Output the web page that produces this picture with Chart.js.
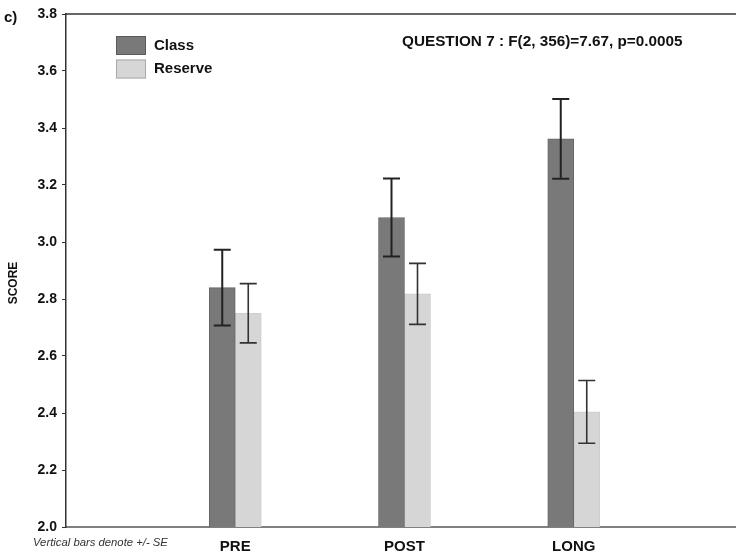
<!DOCTYPE html>
<html>
<head>
<meta charset="utf-8">
<script src="https://cdn.jsdelivr.net/npm/chart.js@4"></script>
<style>
  html, body { margin: 0; padding: 0; background: #fff; overflow: hidden; }
  #wrap { position: relative; width: 754px; height: 553px; }
</style>
</head>
<body>
<div id="wrap"><canvas id="c"></canvas></div>
<script>
// Mean scores per test period, with standard errors
const categories = ['PRE', 'POST', 'LONG'];
const classMeans = [2.84, 3.086, 3.362];
const classSE = [0.133, 0.137, 0.14];
const reserveMeans = [2.75, 2.818, 2.404];
const reserveSE = [0.104, 0.107, 0.11];
const yTickValues = [2.0, 2.2, 2.4, 2.6, 2.8, 3.0, 3.2, 3.4, 3.6, 3.8];

const FONT = "'Liberation Sans', Arial, Helvetica, sans-serif";

// empty slots at both ends keep the groups spaced away from the axes
const labels = ['', ...categories, ''];
const pad = arr => [null, ...arr, null];

const errorBars = {
  id: 'errorBars',
  afterDatasetsDraw(chart) {
    const ctx = chart.ctx;
    const y = chart.scales.y;
    chart.data.datasets.forEach((ds, di) => {
      const meta = chart.getDatasetMeta(di);
      ds.means.forEach((m, i) => {
        const bar = meta.data[i + 1];
        if (!bar) return;
        const x = bar.x;
        const top = y.getPixelForValue(m + ds.se[i]);
        const bot = y.getPixelForValue(m - ds.se[i]);
        const half = 8.5;
        ctx.save();
        ctx.strokeStyle = ds.errColor;
        ctx.lineWidth = ds.errWidth;
        ctx.beginPath();
        ctx.moveTo(x, top); ctx.lineTo(x, bot);
        ctx.moveTo(x - half, top); ctx.lineTo(x + half, top);
        ctx.moveTo(x - half, bot); ctx.lineTo(x + half, bot);
        ctx.stroke();
        ctx.restore();
      });
    });
  }
};

const decorations = {
  id: 'decorations',
  afterDraw(chart) {
    const ctx = chart.ctx;
    const a = chart.chartArea;
    ctx.save();
    // top frame line
    ctx.strokeStyle = '#333';
    ctx.lineWidth = 1.5;
    ctx.beginPath();
    ctx.moveTo(a.left, a.top);
    ctx.lineTo(a.right, a.top);
    ctx.stroke();

    // panel letter
    ctx.fillStyle = '#111';
    ctx.textBaseline = 'middle';
    ctx.textAlign = 'left';
    ctx.font = 'bold 15px ' + FONT;
    ctx.fillText('c)', 4, 18);

    // axis title
    ctx.save();
    ctx.translate(14, 283);
    ctx.rotate(-Math.PI / 2);
    ctx.textAlign = 'center';
    ctx.font = 'bold 12px ' + FONT;
    ctx.fillText('SCORE', 0, 0);
    ctx.restore();

    // legend
    const items = chart.data.datasets;
    items.forEach((ds, i) => {
      const ly = 36 + i * 23.5;
      ctx.fillStyle = ds.backgroundColor;
      ctx.fillRect(116, ly, 30, 19);
      ctx.strokeStyle = ds.legendEdge;
      ctx.lineWidth = 1;
      ctx.strokeRect(116.5, ly + 0.5, 29, 18);
      ctx.fillStyle = '#111';
      ctx.font = 'bold 15px ' + FONT;
      ctx.fillText(ds.label, 154, ly + 9.5);
    });

    // test statistic
    ctx.font = 'bold 15.3px ' + FONT;
    ctx.fillText('QUESTION 7 : F(2, 356)=7.67, p=0.0005', 402, 42);

    // footnote
    ctx.font = 'italic 11.3px ' + FONT;
    ctx.fillStyle = '#333';
    ctx.fillText('Vertical bars denote +/- SE', 33, 543);
    ctx.restore();
  }
};

new Chart(document.getElementById('c'), {
  type: 'bar',
  data: {
    labels: labels,
    datasets: [
      {
        label: 'Class',
        data: pad(classMeans),
        means: classMeans,
        se: classSE,
        backgroundColor: '#797979',
        borderColor: '#666',
        borderWidth: 1,
        legendEdge: '#5a5a5a',
        errColor: '#222',
        errWidth: 2
      },
      {
        label: 'Reserve',
        data: pad(reserveMeans),
        means: reserveMeans,
        se: reserveSE,
        backgroundColor: '#d6d6d6',
        borderColor: '#cdcdcd',
        borderWidth: 1,
        legendEdge: '#aaa',
        errColor: '#333',
        errWidth: 1.6
      }
    ]
  },
  options: {
    responsive: true,
    maintainAspectRatio: false,
    devicePixelRatio: 1,
    animation: false,
    layout: { padding: { top: 14, left: 0, right: 0, bottom: 0 } },
    datasets: { bar: { barThickness: 26 } },
    plugins: {
      legend: { display: false },
      tooltip: { enabled: false }
    },
    scales: {
      x: {
        type: 'category',
        offset: false,
        grid: { display: false, drawTicks: false },
        border: { display: true, color: '#808080', width: 2 },
        ticks: {
          autoSkip: false,
          maxRotation: 0,
          padding: 11,
          color: '#111',
          font: { family: FONT, size: 15, weight: 'bold' }
        },
        afterFit(s) { s.height = 26; }
      },
      y: {
        min: 2.0,
        max: 3.8,
        afterBuildTicks(s) { s.ticks = yTickValues.map(v => ({ value: v })); },
        grid: { display: true, drawOnChartArea: false, drawTicks: true, tickLength: 4, color: '#333' },
        border: { display: true, color: '#333', width: 1.5 },
        ticks: {
          padding: 5,
          color: '#111',
          font: { family: FONT, size: 14, weight: 'bold' },
          callback: v => Number(v).toFixed(1)
        },
        afterFit(s) { s.width = 66; }
      }
    }
  },
  plugins: [errorBars, decorations]
});
</script>
</body>
</html>
